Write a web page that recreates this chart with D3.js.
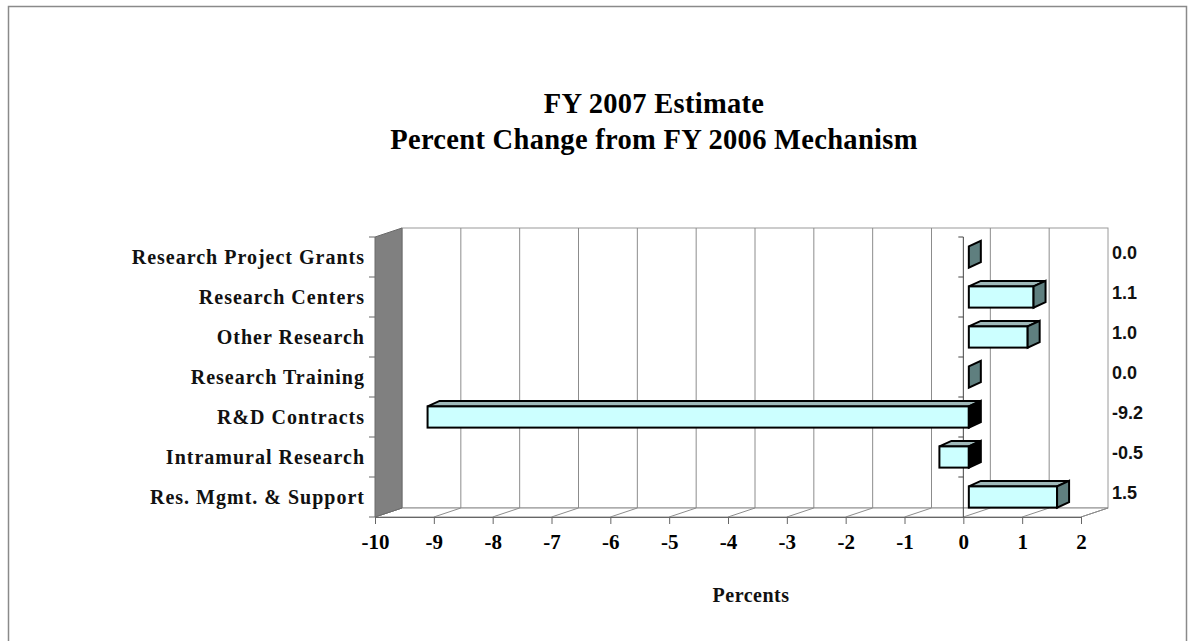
<!DOCTYPE html>
<html>
<head>
<meta charset="utf-8">
<script src="https://cdn.jsdelivr.net/npm/d3@7"></script>
<style>
  html, body { margin: 0; padding: 0; background: #fff; }
  svg { display: block; }
</style>
</head>
<body>
<svg id="chart" width="1188" height="641"></svg>
<script>
// Mechanism categories, top to bottom
const categories = [
  "Research Project Grants",
  "Research Centers",
  "Other Research",
  "Research Training",
  "R&D Contracts",
  "Intramural Research",
  "Res. Mgmt. & Support"
];
// Percent change FY 2006 -> FY 2007
const values = [0.0, 1.1, 1.0, 0.0, -9.2, -0.5, 1.5];
const xTicks = [-10, -9, -8, -7, -6, -5, -4, -3, -2, -1, 0, 1, 2];
const titleLines = ["FY 2007 Estimate", "Percent Change from FY 2006 Mechanism"];
const xTitle = "Percents";

const svg = d3.select("#chart");
const serif = "'Liberation Serif', 'Times New Roman', serif";
const sans = "'Liberation Sans', Arial, sans-serif";
// plain hyphen for negative numbers
const fmt1 = v => (v < 0 ? "-" : "") + Math.abs(v).toFixed(1);

// outer frame (top, left, right)
svg.append("path")
  .attr("d", "M8.5,641 V6.5 H1186.5 V641")
  .attr("fill", "none").attr("stroke", "#8a8a8a").attr("stroke-width", 1.5);

// plot geometry
const plotLeft = 375, plotRight = 1081, plotTop = 237, plotBottom = 517;
const depth = { dx: 27, dy: -9 };

const x = d3.scaleLinear().domain([-10, 2]).range([plotLeft, plotRight]);
const y = d3.scaleBand().domain(categories).range([plotTop, plotBottom]).padding(0);

const g = svg.append("g");

// back wall
g.append("rect")
  .attr("x", plotLeft + depth.dx).attr("y", plotTop + depth.dy)
  .attr("width", plotRight - plotLeft).attr("height", plotBottom - plotTop)
  .attr("fill", "#fff").attr("stroke", "#9a9a9a").attr("stroke-width", 1);

// gridlines on back wall
g.selectAll("line.grid")
  .data(xTicks.slice(1, -1))
  .join("line")
  .attr("class", "grid")
  .attr("x1", d => x(d) + depth.dx).attr("x2", d => x(d) + depth.dx)
  .attr("y1", plotTop + depth.dy).attr("y2", plotBottom + depth.dy)
  .attr("stroke", "#8c8c8c").attr("stroke-width", 1);

// floor
g.append("path")
  .attr("d", `M${plotLeft},${plotBottom} L${plotLeft + depth.dx},${plotBottom + depth.dy} H${plotRight + depth.dx} L${plotRight},${plotBottom} Z`)
  .attr("fill", "#fff").attr("stroke", "#8c8c8c").attr("stroke-width", 1);
g.selectAll("line.floor")
  .data(xTicks)
  .join("line")
  .attr("class", "floor")
  .attr("x1", d => x(d)).attr("x2", d => x(d) + depth.dx)
  .attr("y1", plotBottom).attr("y2", plotBottom + depth.dy)
  .attr("stroke", "#8c8c8c").attr("stroke-width", 1);

// left side wall
g.append("path")
  .attr("d", `M${plotLeft},${plotTop} L${plotLeft + depth.dx},${plotTop + depth.dy} V${plotBottom + depth.dy} L${plotLeft},${plotBottom} Z`)
  .attr("fill", "#808080").attr("stroke", "#6a6a6a").attr("stroke-width", 1);

// band boundaries for category ticks
const bounds = categories.map(c => y(c)).concat([plotBottom]);

// left category axis ticks
g.selectAll("line.ltick")
  .data(bounds)
  .join("line")
  .attr("class", "ltick")
  .attr("x1", plotLeft - 6).attr("x2", plotLeft)
  .attr("y1", d => d).attr("y2", d => d)
  .attr("stroke", "#666").attr("stroke-width", 1);

// zero line with category ticks
g.append("line")
  .attr("x1", x(0)).attr("x2", x(0))
  .attr("y1", plotTop).attr("y2", plotBottom)
  .attr("stroke", "#444").attr("stroke-width", 1);
g.selectAll("line.ztick")
  .data(bounds.slice(0, -1))
  .join("line")
  .attr("class", "ztick")
  .attr("x1", x(0) - 5).attr("x2", x(0))
  .attr("y1", d => d).attr("y2", d => d)
  .attr("stroke", "#444").attr("stroke-width", 1);

// x axis along the front edge of the floor
const xAxis = d3.axisBottom(x).tickValues(xTicks).tickSize(7).tickPadding(10)
  .tickFormat(d => (d < 0 ? "-" : "") + Math.abs(d));
const ax = g.append("g").attr("transform", `translate(0,${plotBottom})`).call(xAxis);
ax.select(".domain").attr("stroke", "#666");
ax.selectAll(".tick line").attr("stroke", "#666");
ax.selectAll(".tick text")
  .attr("font-family", serif).attr("font-weight", "bold")
  .attr("font-size", 21).attr("fill", "#000");

// category labels
g.selectAll("text.cat")
  .data(categories)
  .join("text")
  .attr("class", "cat")
  .attr("x", 365)
  .attr("y", d => y(d) + y.bandwidth() / 2 + 6.5)
  .attr("text-anchor", "end")
  .attr("font-family", serif).attr("font-weight", "bold")
  .attr("font-size", 20).attr("letter-spacing", "1px")
  .attr("fill", "#111")
  .text(d => d);

// 3-D bars
const barFront = { dx: 5.5, dy: 0 };
const barDepth = { dx: 12, dy: -5.5 };
const barH = y.bandwidth() * 0.53;
const rows = categories.map((c, i) => ({ c, v: values[i] }));

const bars = g.selectAll("g.bar")
  .data(rows)
  .join("g")
  .attr("class", "bar");

bars.each(function (d) {
  const sel = d3.select(this);
  const x0 = x(Math.min(d.v, 0)) + barFront.dx;
  const x1 = x(Math.max(d.v, 0)) + barFront.dx;
  const yc = y(d.c) + y.bandwidth() / 2 + barFront.dy;
  const y0 = yc - barH / 2, y1 = yc + barH / 2;
  const { dx, dy } = barDepth;
  const stroke = { stroke: "#000", "stroke-width": 2, "stroke-linejoin": "miter" };
  const apply = (s, attrs) => { Object.entries(attrs).forEach(([k, v]) => s.attr(k, v)); return s; };

  if (x1 - x0 > 0.5) {
    // top face
    apply(sel.append("path")
      .attr("d", `M${x0},${y0} L${x1},${y0} L${x1 + dx},${y0 + dy} L${x0 + dx},${y0 + dy} Z`)
      .attr("fill", "#9fb9b9"), stroke);
    // front face
    apply(sel.append("rect")
      .attr("x", x0).attr("y", y0).attr("width", x1 - x0).attr("height", y1 - y0)
      .attr("fill", "#ccffff"), stroke);
  }
  // end face
  apply(sel.append("path")
    .attr("d", `M${x1},${y0} L${x1 + dx},${y0 + dy} L${x1 + dx},${y1 + dy} L${x1},${y1} Z`)
    .attr("fill", d.v < 0 ? "#000" : "#5f7f7f"), stroke);
});

// value labels on the right
g.selectAll("text.val")
  .data(rows)
  .join("text")
  .attr("class", "val")
  .attr("x", 1112)
  .attr("y", d => y(d.c) + y.bandwidth() / 2 + 1.5)
  .attr("font-family", sans).attr("font-weight", "bold")
  .attr("font-size", 18).attr("fill", "#111")
  .text(d => fmt1(d.v));

// title
svg.selectAll("text.title")
  .data(titleLines)
  .join("text")
  .attr("class", "title")
  .attr("x", 654)
  .attr("y", (d, i) => 113 + i * 36)
  .attr("text-anchor", "middle")
  .attr("font-family", serif).attr("font-weight", "bold")
  .attr("font-size", 28.5).attr("letter-spacing", "0.3px")
  .attr("fill", "#000")
  .text(d => d);

// x axis title
svg.append("text")
  .attr("x", 751).attr("y", 602)
  .attr("text-anchor", "middle")
  .attr("font-family", serif).attr("font-weight", "bold")
  .attr("font-size", 20).attr("letter-spacing", "0.5px")
  .attr("fill", "#111")
  .text(xTitle);
</script>
</body>
</html>
